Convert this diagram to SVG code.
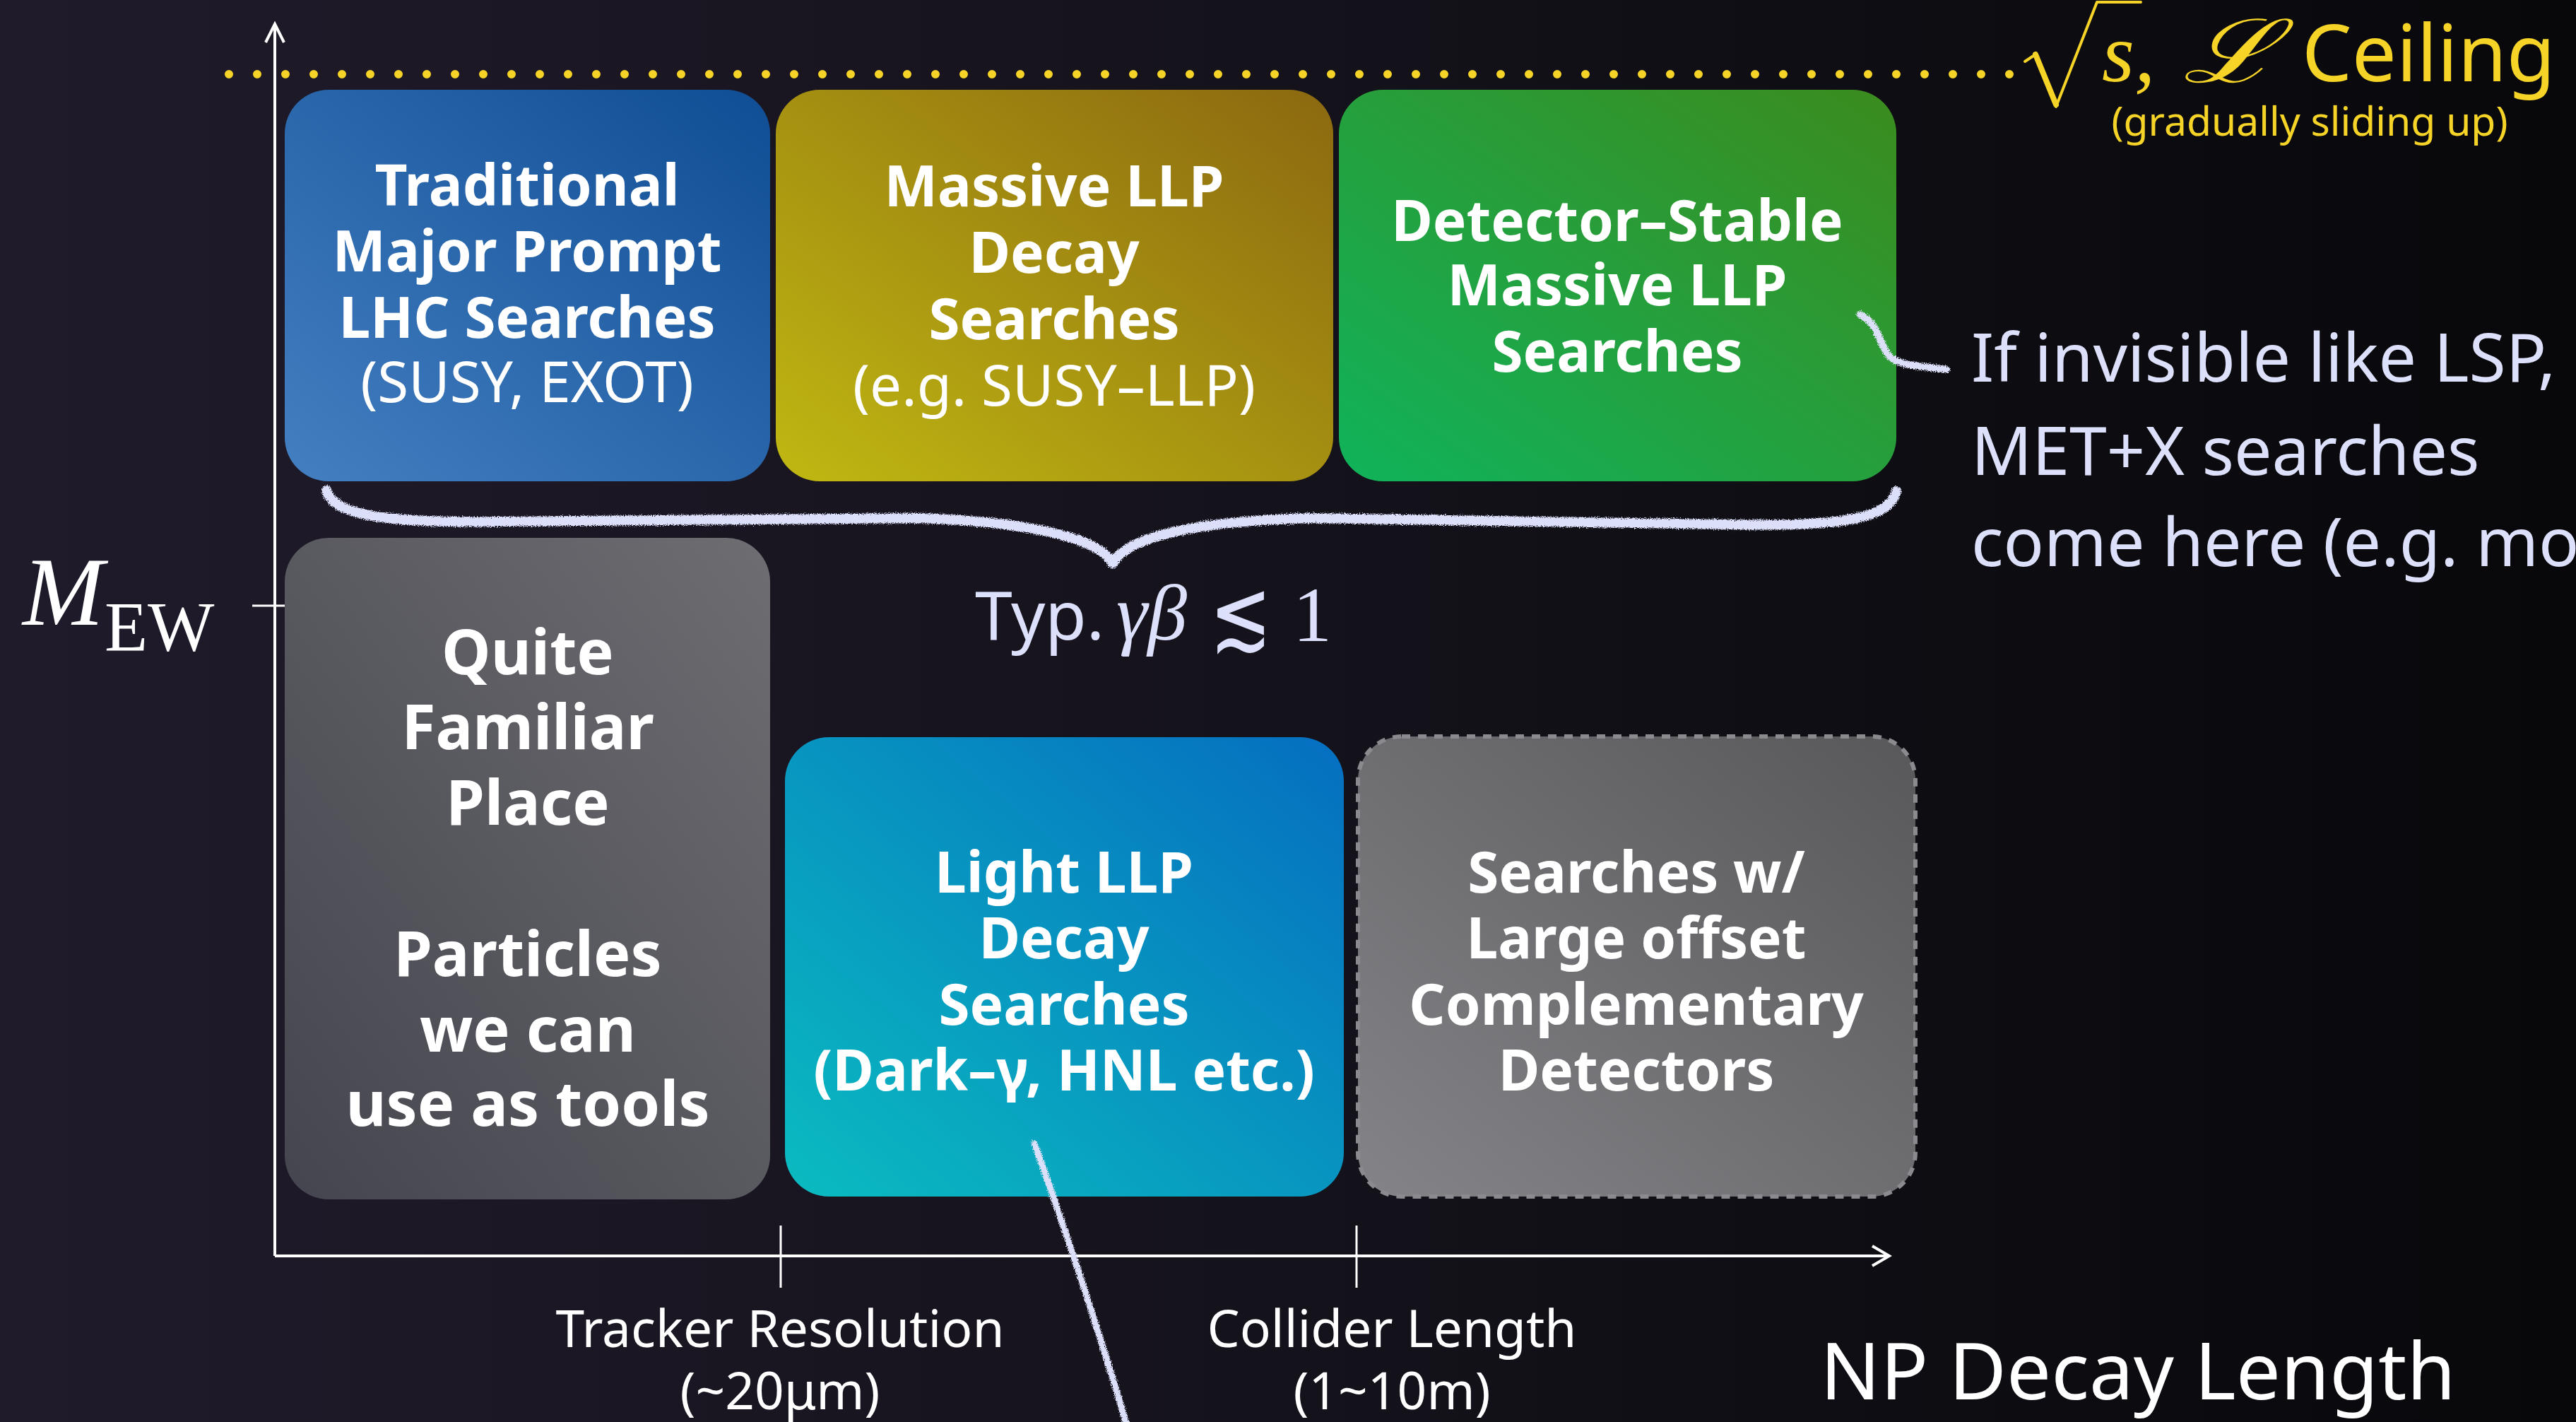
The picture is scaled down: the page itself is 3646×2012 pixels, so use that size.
<svg xmlns="http://www.w3.org/2000/svg" width="3646" height="2012" viewBox="0 0 3646 2012">
  <defs>
    <linearGradient id="bg" x1="0" y1="0" x2="1" y2="0">
      <stop offset="0" stop-color="#201b2b"/>
      <stop offset="0.55" stop-color="#131119"/>
      <stop offset="1" stop-color="#08080b"/>
    </linearGradient>
    <linearGradient id="gBlue" x1="0" y1="1" x2="1" y2="0">
      <stop offset="0" stop-color="#447fc1"/>
      <stop offset="1" stop-color="#0f4d94"/>
    </linearGradient>
    <linearGradient id="gOlive" x1="0" y1="1" x2="1" y2="0">
      <stop offset="0" stop-color="#c0b812"/>
      <stop offset="1" stop-color="#8b6810"/>
    </linearGradient>
    <linearGradient id="gGreen" x1="0" y1="1" x2="1" y2="0">
      <stop offset="0" stop-color="#10b35b"/>
      <stop offset="1" stop-color="#3b8b1d"/>
    </linearGradient>
    <linearGradient id="gGray" x1="0" y1="1" x2="1" y2="0">
      <stop offset="0" stop-color="#44454e"/>
      <stop offset="1" stop-color="#6e6d72"/>
    </linearGradient>
    <linearGradient id="gCyan" x1="0" y1="1" x2="1" y2="0">
      <stop offset="0" stop-color="#0abcc0"/>
      <stop offset="1" stop-color="#056ec0"/>
    </linearGradient>
    <linearGradient id="gGrayDash" x1="0" y1="1" x2="1" y2="0">
      <stop offset="0" stop-color="#848387"/>
      <stop offset="1" stop-color="#58585b"/>
    </linearGradient>
    <filter id="chalk" filterUnits="userSpaceOnUse" x="0" y="0" width="3646" height="2012">
      <feTurbulence type="fractalNoise" baseFrequency="0.9" numOctaves="2" seed="3" result="noise"/>
      <feDisplacementMap in="SourceGraphic" in2="noise" scale="8" xChannelSelector="R" yChannelSelector="G"/>
    </filter>
    <style>
      .box-title { font-family: "Noto Sans", "DejaVu Sans", sans-serif; font-weight: 700; font-size: 80px; fill: #ffffff; text-anchor: middle; }
      .box-sub { font-family: "Noto Sans", "DejaVu Sans", sans-serif; font-weight: 400; font-size: 80px; fill: #ffffff; text-anchor: middle; }
      .box-big { font-family: "Noto Sans", "DejaVu Sans", sans-serif; font-weight: 700; font-size: 88px; fill: #ffffff; text-anchor: middle; }
      .axis { stroke: #ffffff; stroke-width: 4; fill: none; }
      .tick { stroke: #ffffff; stroke-width: 3; fill: none; }
      .axis-label { font-family: "Noto Sans", "DejaVu Sans", sans-serif; font-size: 73px; fill: #ffffff; text-anchor: middle; }
      .chalk { stroke: #dcdffa; fill: none; stroke-linecap: round; stroke-linejoin: round; filter: url(#chalk); }
      .note { font-family: "Noto Sans", "DejaVu Sans", sans-serif; font-size: 95px; fill: #dde0fa; }
      .gold { fill: #f5d327; }
      .gold-line { stroke: #f5d327; fill: none; stroke-linecap: round; stroke-linejoin: round; }
      .math { font-family: "Liberation Serif", "DejaVu Serif", serif; }
    </style>
  </defs>

  <!-- backdrop -->
  <rect x="0" y="0" width="3646" height="2012" fill="url(#bg)"/>

  <!-- energy / luminosity ceiling -->
  <g id="ceiling">
    <line x1="324" y1="105" x2="2848" y2="105" stroke="#f5d327" stroke-width="12" stroke-linecap="round" stroke-dasharray="0 40"/>
    <!-- radical sign over s -->
    <path class="gold-line" stroke-width="4" d="M 2866 87 L 2881 77"/>
    <path class="gold-line" stroke-width="8" d="M 2881 77 L 2910 148"/>
    <path class="gold-line" stroke-width="4" d="M 2910 151 L 2968 3 L 3030 3"/>
    <text x="2975" y="115" class="math gold" font-size="118" font-style="italic">s,</text>
    <text transform="translate(3089,116) scale(1.3,1)" font-family="DejaVu Serif, serif" font-style="italic" font-size="124" class="gold">ℒ</text>
    <text x="3258" y="115" font-family="Noto Sans, DejaVu Sans, sans-serif" font-size="112" class="gold">Ceiling</text>
    <text x="3269" y="192" font-family="Noto Sans, DejaVu Sans, sans-serif" font-size="57" class="gold" text-anchor="middle">(gradually sliding up)</text>
  </g>

  <!-- axes -->
  <g id="axes">
    <line class="axis" x1="389" y1="36" x2="389" y2="1777"/>
    <polyline class="axis" points="376,60 389,34 402,60"/>
    <line class="axis" x1="389" y1="1777" x2="2672" y2="1777"/>
    <polyline class="axis" points="2650,1763 2674,1777 2650,1791"/>
    <line class="tick" x1="357" y1="857" x2="420" y2="857"/>
    <line class="tick" x1="1105" y1="1734" x2="1105" y2="1822"/>
    <line class="tick" x1="1920" y1="1734" x2="1920" y2="1822"/>
    <text x="32" y="884" class="math" font-size="138" font-style="italic" fill="#ffffff">M</text>
    <text x="148" y="920" class="math" font-size="100" fill="#ffffff">EW</text>
    <text x="1104" y="1906" class="axis-label">Tracker Resolution</text>
    <text x="1104" y="1994" class="axis-label">(~20μm)</text>
    <text x="1970" y="1906" class="axis-label">Collider Length</text>
    <text x="1970" y="1994" class="axis-label">(1~10m)</text>
    <text x="3026" y="1980" font-family="Noto Sans, DejaVu Sans, sans-serif" font-size="112" fill="#ffffff" text-anchor="middle">NP Decay Length</text>
  </g>

  <!-- search regions -->
  <g id="prompt-searches">
    <rect x="403" y="127" width="687" height="554" rx="62" fill="url(#gBlue)"/>
    <text x="746" y="291" class="box-title">Traditional</text>
    <text x="746" y="384" class="box-title">Major Prompt</text>
    <text x="746" y="478" class="box-title">LHC Searches</text>
    <text x="746" y="569" class="box-sub">(SUSY, EXOT)</text>
  </g>

  <g id="massive-llp-decay">
    <rect x="1098" y="127" width="789" height="554" rx="62" fill="url(#gOlive)"/>
    <text x="1492" y="292" class="box-title">Massive LLP</text>
    <text x="1492" y="386" class="box-title">Decay</text>
    <text x="1492" y="480" class="box-title">Searches</text>
    <text x="1492" y="574" class="box-sub">(e.g. SUSY–LLP)</text>
  </g>

  <g id="detector-stable">
    <rect x="1895" y="127" width="789" height="554" rx="62" fill="url(#gGreen)"/>
    <text x="2289" y="341" class="box-title">Detector–Stable</text>
    <text x="2289" y="432" class="box-title">Massive LLP</text>
    <text x="2289" y="526" class="box-title">Searches</text>
  </g>

  <g id="familiar-place">
    <rect x="403" y="761" width="687" height="936" rx="62" fill="url(#gGray)"/>
    <text x="747" y="954" class="box-big">Quite</text>
    <text x="747" y="1060" class="box-big">Familiar</text>
    <text x="747" y="1167" class="box-big">Place</text>
    <text x="747" y="1381" class="box-big">Particles</text>
    <text x="747" y="1488" class="box-big">we can</text>
    <text x="747" y="1593" class="box-big">use as tools</text>
  </g>

  <g id="light-llp-decay">
    <rect x="1111" y="1043" width="791" height="650" rx="62" fill="url(#gCyan)"/>
    <text x="1506" y="1263" class="box-title">Light LLP</text>
    <text x="1506" y="1356" class="box-title">Decay</text>
    <text x="1506" y="1450" class="box-title">Searches</text>
    <text x="1506" y="1543" class="box-title">(Dark–γ, HNL etc.)</text>
  </g>

  <g id="offset-detectors">
    <rect x="1922" y="1042" width="789" height="651" rx="62" fill="url(#gGrayDash)" stroke="#8b8a8e" stroke-width="6" stroke-dasharray="12 11"/>
    <text x="2316" y="1263" class="box-title">Searches w/</text>
    <text x="2316" y="1356" class="box-title">Large offset</text>
    <text x="2316" y="1450" class="box-title">Complementary</text>
    <text x="2316" y="1543" class="box-title">Detectors</text>
  </g>

  <!-- chalk annotations -->
  <g id="connectors">
    <path class="chalk" stroke-width="14" d="M 462 694 C 472 728, 540 740, 700 738 L 1300 733 C 1450 738, 1555 760, 1575 797 C 1595 760, 1690 738, 1850 733 L 2450 742 C 2620 746, 2676 730, 2684 695"/>
    <path class="chalk" stroke-width="10" d="M 2633 445 C 2660 458, 2660 490, 2675 505 C 2690 518, 2720 518, 2755 523"/>
    <path class="chalk" stroke-width="9" d="M 1464 1618 Q 1530 1800 1596 2020"/>
  </g>

  <g id="labels">
    <text x="1380" y="905" class="note" font-size="88">Typ.</text>
    <text x="1580" y="905" class="math" font-size="112" font-style="italic" fill="#dde0fa">γβ</text>
    <text transform="translate(1712,918) scale(0.75,1)" font-family="DejaVu Sans, sans-serif" font-size="140" fill="#dde0fa">≲</text>
    <text x="1830" y="907" class="math" font-size="110" fill="#dde0fa">1</text>
    <text x="2790" y="540" class="note">If invisible like LSP,</text>
    <text x="2790" y="672" class="note">MET+X searches</text>
    <text x="2790" y="801" class="note">come here (e.g. mon</text>
  </g>
</svg>
